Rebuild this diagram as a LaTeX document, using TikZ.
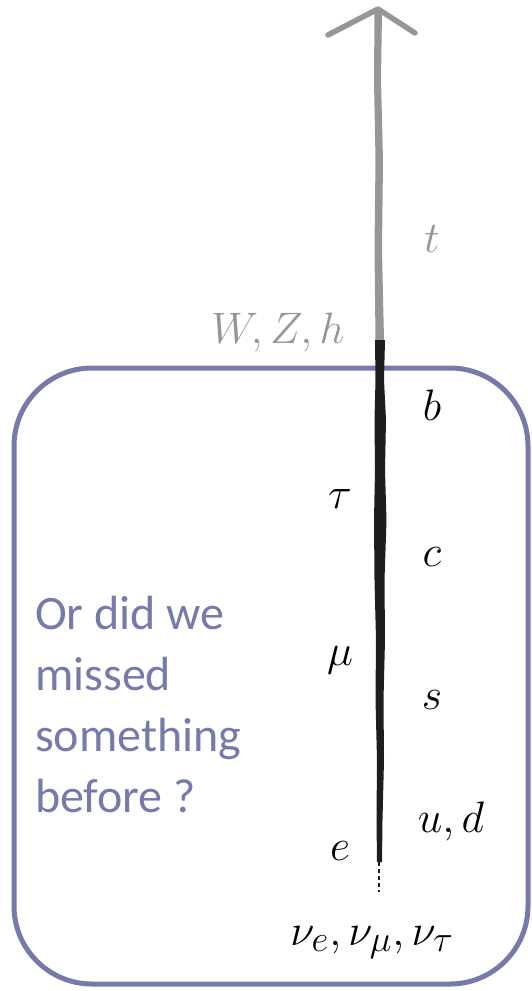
\documentclass[tikz,border=0pt]{standalone}
\usepackage{graphicx}
\usepackage{fontspec}
\newfontfamily\calib{Carlito}
\definecolor{boxblue}{RGB}{117,122,170}
\definecolor{arrgray}{RGB}{150,150,150}
\definecolor{arrblack}{RGB}{30,30,30}
\newcommand\bigmath[1]{\scalebox{1.77}{\Huge$#1$}}
\tikzset{
  boxline/.style={draw=boxblue, line width=5pt, rounded corners=78pt},
  lbl/.style={anchor=base, inner sep=0pt},
  glbl/.style={lbl, text=arrgray},
  note/.style={anchor=north west, inner sep=0pt, align=left, text=boxblue,
    font=\calib\fontsize{48}{61}\selectfont},
}
\begin{document}
\begin{tikzpicture}[x=1pt,y=-1pt]
\useasboundingbox (0,0) rectangle (531,991);
% box
\draw[boxline] (14,368) rectangle (528,984);
% arrow
\coordinate (tip) at (378,9);
\coordinate (la) at (328,35);
\coordinate (ra) at (415,33);
\coordinate (mid) at (380,340);
\coordinate (low) at (379,862);
\coordinate (end) at (379,892);
\fill[arrgray] (374.5,12) -- (382,12) -- (381,80) -- (383,160) -- (382,250) -- (384,340)
  -- (375.5,340) -- (374.5,250) -- (375.5,160) -- (374,80) -- cycle;
\draw[arrgray, line width=5.5pt, line cap=round, line join=round] (la) -- (tip) -- (ra);
\fill[arrblack] (375,340) -- (385,340) -- (384,380) -- (386,420) -- (385,470) -- (386.5,520)
  -- (384.5,580) -- (385,640) -- (383.5,700) -- (384,760) -- (382.5,820) -- (382,862)
  -- (377,862) -- (376.5,820) -- (377,760) -- (375.5,700) -- (376,640) -- (374.5,580)
  -- (374,520) -- (375,470) -- (374.5,420) -- (375.5,380) -- cycle;
\draw[arrblack, line width=1.5pt, dash pattern=on 4pt off 3pt] (low) -- (end);
% labels
\node[glbl] (t) at (432,252) {\bigmath{t}};
\node[glbl] (wzh) at (278,343) {\bigmath{W,Z,h}};
\node[lbl] (b) at (432,420) {\bigmath{b}};
\node[lbl] (tau) at (340,508) {\bigmath{\tau}};
\node[lbl] (c) at (432,566) {\bigmath{c}};
\node[lbl] (mu) at (340,665) {\bigmath{\mu}};
\node[lbl] (s) at (432,709) {\bigmath{s}};
\node[lbl] (ud) at (451,832) {\bigmath{u,d}};
\node[lbl] (e) at (340,860) {\bigmath{e}};
\node[lbl] (nu) at (372,945) {\bigmath{\nu_e,\nu_\mu,\nu_\tau}};
\node[note] (q) at (35,596) {Or did we\\missed\\something\\before ?};
\end{tikzpicture}
\end{document}
